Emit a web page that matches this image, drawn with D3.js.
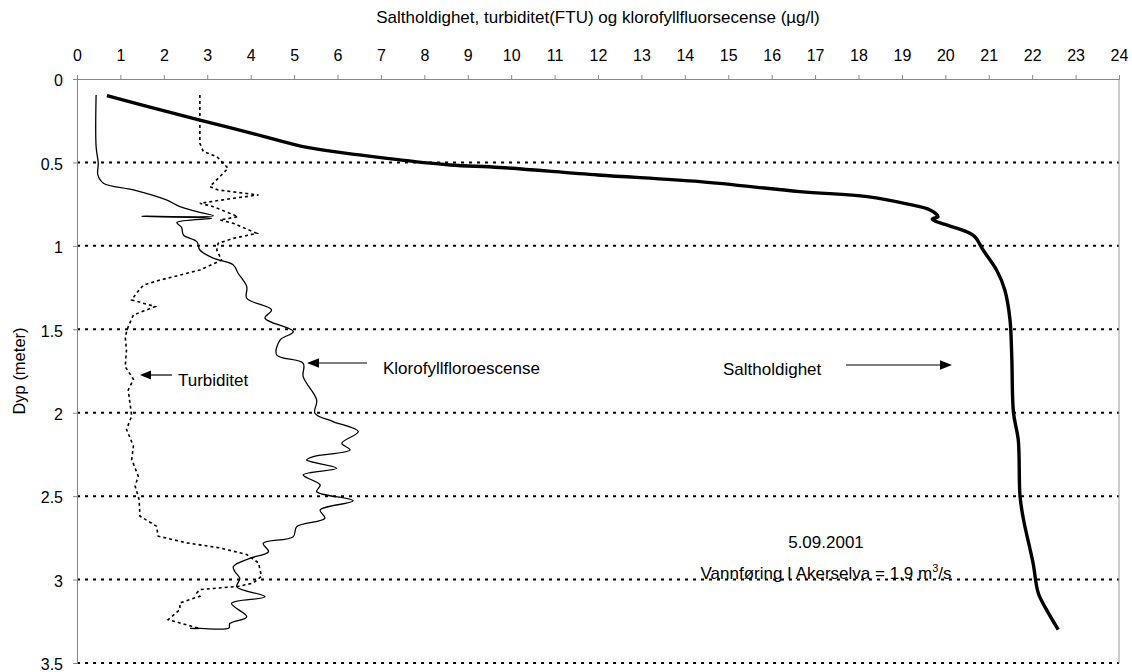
<!DOCTYPE html>
<html>
<head>
<meta charset="utf-8">
<script src="https://cdn.jsdelivr.net/npm/d3@7"></script>
<style>
  html, body { margin: 0; padding: 0; background: #fff; }
  svg { display: block; font-family: "Liberation Sans", Arial, sans-serif; }
</style>
</head>
<body>
<div id="chart"></div>
<script>
// depth (m) on the y axis, value on the x axis
const xTicks = d3.range(0, 25, 1);
const yTicks = [0, 0.5, 1, 1.5, 2, 2.5, 3, 3.5];

const salinityDepth = [0.10, 0.168, 0.246, 0.33, 0.41, 0.455, 0.485, 0.515, 0.53, 0.575, 0.615, 0.675, 0.705, 0.75, 0.785, 0.825, 0.84, 0.915, 0.945, 1.025, 1.145, 1.264, 1.444, 1.664, 2.0, 2.163, 2.5, 2.64, 2.9, 3.08, 3.18, 3.30];
const salinity      = [0.69, 1.68, 2.83, 4.1, 5.3, 6.5, 7.44, 8.6, 9.74, 12.0, 14.35, 16.65, 18.2, 19.14, 19.65, 19.83, 19.7, 20.49, 20.68, 20.87, 21.18, 21.37, 21.49, 21.53, 21.57, 21.68, 21.72, 21.8, 22.02, 22.14, 22.33, 22.6];

const chlorophyllDepth = [0.096, 0.405, 0.505, 0.575, 0.625, 0.665, 0.725, 0.765, 0.795, 0.82, 0.823, 0.835, 0.86, 0.89, 0.935, 0.975, 1.025, 1.074, 1.114, 1.164, 1.244, 1.314, 1.384, 1.434, 1.514, 1.564, 1.654, 1.704, 1.784, 1.924, 2.003, 2.053, 2.113, 2.183, 2.223, 2.263, 2.283, 2.333, 2.373, 2.433, 2.473, 2.528, 2.583, 2.633, 2.683, 2.743, 2.783, 2.833, 2.873, 2.923, 2.953, 2.993, 3.043, 3.103, 3.143, 3.223, 3.263, 3.29, 3.293, 3.293];
const chlorophyll      = [0.44, 0.44, 0.49, 0.48, 0.61, 1.30, 2.06, 2.37, 2.76, 3.14, 1.49, 3.1, 2.3, 2.41, 2.45, 2.76, 2.83, 3.14, 3.60, 3.71, 3.91, 3.91, 4.48, 4.33, 4.98, 4.68, 4.60, 5.21, 5.21, 5.52, 5.48, 5.90, 6.48, 6.10, 6.29, 5.44, 5.29, 5.98, 5.21, 5.60, 5.52, 6.36, 5.60, 5.71, 5.06, 4.98, 4.29, 4.41, 3.98, 3.60, 3.64, 3.75, 3.68, 4.33, 3.56, 3.91, 3.52, 3.50, 2.83, 2.60];

const turbidityDepth = [0.096, 0.385, 0.435, 0.465, 0.535, 0.585, 0.645, 0.665, 0.695, 0.715, 0.745, 0.765, 0.825, 0.845, 0.865, 0.925, 0.955, 0.985, 1.025, 1.085, 1.145, 1.205, 1.235, 1.284, 1.324, 1.364, 1.414, 1.484, 1.544, 1.624, 1.724, 1.80, 1.864, 1.943, 2.02, 2.10, 2.20, 2.28, 2.38, 2.44, 2.52, 2.62, 2.68, 2.74, 2.78, 2.81, 2.85, 2.90, 2.98, 3.02, 3.04, 3.06, 3.08, 3.10, 3.14, 3.18, 3.24, 3.26, 3.28, 3.29];
const turbidity      = [2.83, 2.83, 2.91, 3.22, 3.48, 3.29, 3.06, 3.25, 4.18, 3.6, 2.83, 3.14, 3.71, 3.29, 3.6, 4.14, 3.6, 3.25, 3.22, 3.33, 2.83, 1.91, 1.53, 1.37, 1.26, 1.80, 1.30, 1.18, 1.11, 1.14, 1.11, 1.30, 1.18, 1.22, 1.26, 1.14, 1.30, 1.26, 1.41, 1.34, 1.43, 1.45, 1.83, 1.87, 2.53, 3.29, 3.91, 4.18, 4.25, 4.06, 3.75, 2.83, 2.76, 2.83, 2.37, 2.37, 2.10, 2.37, 2.64, 2.79];

const width = 1132, height = 672;
const margin = { top: 79, right: 13, bottom: 9, left: 77 };

const svg = d3.select("#chart").append("svg")
  .attr("width", width)
  .attr("height", height);

svg.append("rect").attr("width", width).attr("height", height).attr("fill", "#fff");

const x = d3.scaleLinear().domain([0, 24]).range([margin.left, width - margin.right]);
const y = d3.scaleLinear().domain([0, 3.5]).range([margin.top, height - margin.bottom]);

// dotted gridlines
svg.append("g").selectAll("line")
  .data(yTicks.filter(d => d > 0))
  .join("line")
    .attr("x1", x(0)).attr("x2", x(24))
    .attr("y1", d => y(d)).attr("y2", d => y(d))
    .attr("stroke", "#000")
    .attr("stroke-width", 2)
    .attr("stroke-dasharray", "3,5");

// right border
svg.append("line")
  .attr("x1", x(24)).attr("x2", x(24))
  .attr("y1", y(0)).attr("y2", y(3.5))
  .attr("stroke", "#999");

const xAxis = svg.append("g")
  .attr("transform", `translate(0,${y(0)})`)
  .call(d3.axisTop(x).tickValues(xTicks).tickSize(4).tickPadding(14).tickFormat(d3.format("d")));

const yAxis = svg.append("g")
  .attr("transform", `translate(${x(0)},0)`)
  .call(d3.axisLeft(y).tickValues(yTicks).tickSize(4).tickPadding(10).tickFormat(d => String(d)));

[xAxis, yAxis].forEach(a => {
  a.select(".domain").attr("stroke", "#888");
  a.selectAll(".tick line").attr("stroke", "#888");
  a.selectAll(".tick text").attr("fill", "#000").style("font-size", "16px")
    .style("font-family", "'Liberation Sans', Arial, sans-serif");
});
yAxis.selectAll(".tick text").attr("dy", "0.42em");

svg.append("text")
  .attr("x", (x(0) + x(24)) / 2)
  .attr("y", 23)
  .attr("text-anchor", "middle")
  .style("font-size", "17px")
  .text("Saltholdighet, turbiditet(FTU) og klorofyllfluorsecense (µg/l)");

svg.append("text")
  .attr("transform", `translate(25,${(y(0) + y(3.5)) / 2}) rotate(-90)`)
  .attr("text-anchor", "middle")
  .style("font-size", "16.5px")
  .text("Dyp (meter)");

const toPoints = (vals, depths) => vals.map((v, i) => [v, depths[i]]);

svg.append("path")
  .datum(toPoints(turbidity, turbidityDepth))
  .attr("fill", "none")
  .attr("stroke", "#000")
  .attr("stroke-width", 1.6)
  .attr("stroke-dasharray", "3,3")
  .attr("d", d3.line().x(d => x(d[0])).y(d => y(d[1])));

svg.append("path")
  .datum(toPoints(chlorophyll, chlorophyllDepth))
  .attr("fill", "none")
  .attr("stroke", "#000")
  .attr("stroke-width", 1.3)
  .attr("d", d3.line().curve(d3.curveCatmullRom.alpha(0.5)).x(d => x(d[0])).y(d => y(d[1])));

svg.append("path")
  .datum(toPoints(salinity, salinityDepth))
  .attr("fill", "none")
  .attr("stroke", "#000")
  .attr("stroke-width", 3.4)
  .attr("stroke-linejoin", "round")
  .attr("d", d3.line().curve(d3.curveCatmullRom.alpha(0.5)).x(d => x(d[0])).y(d => y(d[1])));

// annotations
function arrow(x1, x2, yy, head) {
  const dir = Math.sign(x2 - x1);
  svg.append("line")
    .attr("x1", x1).attr("x2", x2 - dir * head).attr("y1", yy).attr("y2", yy)
    .attr("stroke", "#000").attr("stroke-width", 1.2);
  svg.append("path")
    .attr("d", `M${x2},${yy}L${x2 - dir * head},${yy - head * 0.4}L${x2 - dir * head},${yy + head * 0.4}Z`)
    .attr("fill", "#000");
}

const note = (tx, ty, str, anchor = "start") => svg.append("text")
  .attr("x", tx).attr("y", ty)
  .attr("text-anchor", anchor)
  .style("font-size", "17px")
  .text(str);

arrow(172, 140, 375, 11);
note(178, 386, "Turbiditet");

arrow(367, 307, 363, 12);
note(383, 374, "Klorofyllfloroescense");

note(723, 375, "Saltholdighet");
arrow(846, 952, 365, 12);

note(826, 548, "5.09.2001", "middle");
const flow = note(826, 579, "Vannføring I Akerselva = 1.9 m", "middle");
flow.append("tspan").attr("dy", -7).style("font-size", "11px").text("3");
flow.append("tspan").attr("dy", 7).text("/s");
</script>
</body>
</html>
